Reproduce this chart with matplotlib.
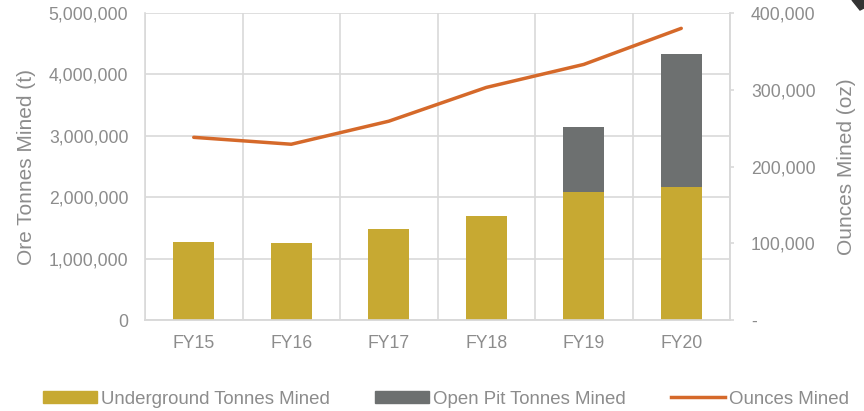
import numpy as np
import matplotlib
matplotlib.use("agg")
from matplotlib import pyplot as plt
from matplotlib.patches import Polygon
from matplotlib.lines import Line2D
from matplotlib.patches import Patch

plt.rcParams['font.family'] = ['Liberation Sans', 'DejaVu Sans']

years = ['FY15', 'FY16', 'FY17', 'FY18', 'FY19', 'FY20']
underground_t = [1270000, 1260000, 1490000, 1700000, 2080000, 2170000]
open_pit_t = [0, 0, 0, 0, 1060000, 2160000]
ounces = [238000, 229000, 259000, 303000, 333000, 380000]

GOLD = '#C7A932'
GREY = '#6D7070'
ORANGE = '#D5692A'
TEXT = '#8C8C8C'
GRID = '#D9D9D9'

fig = plt.figure(figsize=(8.64, 4.11), dpi=100)
ax = fig.add_axes([145 / 864, 1 - 320 / 411, 585 / 864, 307 / 411])
ax2 = ax.twinx()

x = np.arange(len(years))
ax.bar(x, underground_t, width=0.42, color=GOLD, zorder=3)
ax.bar(x, open_pit_t, width=0.42, bottom=underground_t, color=GREY, zorder=3)
ax2.plot(x, ounces, color=ORANGE, lw=2.5, solid_capstyle='round', zorder=4)

ax.set_xlim(-0.5, len(years) - 0.5)
ax.set_ylim(0, 5000000)
ax2.set_ylim(0, 400000)

ax.set_xticks(x)
ax.set_xticklabels(years)
ax.set_xticks(np.arange(len(years) + 1) - 0.5, minor=True)
ax.set_yticks(np.arange(0, 5000001, 1000000))
ax.set_yticklabels(['{:,}'.format(v) for v in range(0, 5000001, 1000000)])
ax2.set_yticks(np.arange(0, 400001, 100000))
ax2.set_yticklabels(['-'] + ['{:,}'.format(v) for v in range(100000, 400001, 100000)])

ax.grid(axis='y', color=GRID, lw=1.2, zorder=0)
ax.grid(axis='x', which='minor', color=GRID, lw=1.2, zorder=0)

for a in (ax, ax2):
    for s in a.spines.values():
        s.set_color(GRID)
        s.set_linewidth(1.2)
    a.spines['top'].set_visible(False)
ax2.spines['left'].set_visible(False)

ax.tick_params(axis='x', which='both', length=0, labelsize=12.7, colors=TEXT, pad=11)
ax.tick_params(axis='y', length=0, labelsize=12.7, colors=TEXT, pad=12)
ax2.tick_params(axis='y', length=3, width=1.2, color=GRID, labelsize=12.7,
                labelcolor=TEXT, pad=12)

ax.set_ylabel('Ore Tonnes Mined (t)', color=TEXT, fontsize=15)
ax2.set_ylabel('Ounces Mined (oz)', color=TEXT, fontsize=15)
ax.yaxis.set_label_coords((36 - 145) / 585, 0.5)
ax2.yaxis.set_label_coords((837 - 145) / 585, 0.5)

handles = [Patch(color=GOLD), Patch(color=GREY), Line2D([0], [0], color=ORANGE, lw=2.5)]
labels = ['Underground Tonnes Mined', 'Open Pit Tonnes Mined', 'Ounces Mined']
leg = fig.legend(handles, labels, loc='center', bbox_to_anchor=(446 / 864, 1 - 399 / 411),
                 ncol=3, frameon=False, fontsize=13.4, handlelength=2.9,
                 handleheight=0.55, handletextpad=0.25, columnspacing=2.4)
for t in leg.get_texts():
    t.set_color(TEXT)

# dark corner accent
fig.patches.append(Polygon([[852 / 864, 1], [1, 1], [1, 1 - 8 / 411], [1 - 4 / 864, 1 - 10 / 411]],
                           closed=True, transform=fig.transFigure, color='#333333'))

fig.savefig('out.png', dpi=100, facecolor='white')
